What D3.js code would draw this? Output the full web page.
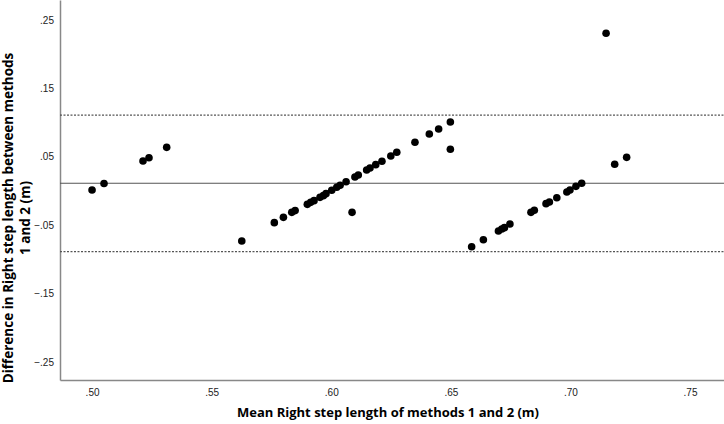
<!DOCTYPE html>
<html>
<head>
<meta charset="utf-8">
<script src="https://cdn.jsdelivr.net/npm/d3@7"></script>
<style>
  body { margin: 0; background: #fff; }
  svg { font-family: "Open Sans", sans-serif; }
  .tick text { fill: #222; font-size: 10px; }
</style>
</head>
<body>
<script>
// data: mean of methods (x) and difference (y)
var meanVals = [0.500, 0.505, 0.5213, 0.5238, 0.5312, 0.5626, 0.5762, 0.5800, 0.5835, 0.5849,
  0.5900, 0.5914, 0.5928, 0.5953, 0.5967, 0.5978, 0.6002, 0.6023, 0.6037, 0.6062,
  0.6087, 0.6099, 0.6113, 0.6148, 0.6162, 0.6186, 0.6212, 0.6249, 0.6274, 0.6350,
  0.6410, 0.6449, 0.6498, 0.6498, 0.6587, 0.6636, 0.6699, 0.6713, 0.6724, 0.6747,
  0.6835, 0.6849, 0.6898, 0.6912, 0.6943, 0.6985, 0.6998, 0.7023, 0.7047, 0.7149,
  0.7185, 0.7235];
var diffVals = [0.0015, 0.011, 0.0439, 0.0487, 0.0638, -0.0731, -0.0463, -0.0385, -0.0312, -0.0287,
  -0.0195, -0.0166, -0.0141, -0.0093, -0.0068, -0.0039, 0.001, 0.0054, 0.0083, 0.0136,
  -0.0312, 0.0205, 0.0234, 0.0307, 0.0336, 0.0385, 0.0434, 0.0512, 0.0566, 0.0712,
  0.0833, 0.0906, 0.1009, 0.061, -0.0814, -0.0712, -0.0585, -0.0556, -0.0536, -0.0482,
  -0.0312, -0.0282, -0.0185, -0.0161, -0.0098, -0.0015, 0.0015, 0.0068, 0.0113, 0.2306,
  0.039, 0.0492];

// mean difference and limits of agreement
var meanDiff = 0.0113;
var upperLimit = 0.111;
var lowerLimit = -0.0887;

var xTicks = [0.50, 0.55, 0.60, 0.65, 0.70, 0.75];
var yTicks = [-0.25, -0.15, -0.05, 0.05, 0.15, 0.25];

var width = 724, height = 424;
var plotLeft = 60, plotRight = 724, plotTop = 0, plotBottom = 380;

var svg = d3.select("body").append("svg")
    .attr("width", width)
    .attr("height", height);

var x = d3.scaleLinear().domain([0.4866, 0.7642]).range([plotLeft, plotRight]);
var y = d3.scaleLinear().domain([-0.2763, 0.2792]).range([plotBottom, plotTop]);

// ".50" style labels, no leading zero
function fmt(d) { return d3.format(".2f")(d).replace("0.", "."); }

// axes
svg.append("g")
    .attr("transform", "translate(0," + plotBottom + ")")
    .call(d3.axisBottom(x).tickValues(xTicks).tickSize(0).tickPadding(9).tickFormat(fmt))
    .call(function(g) { g.select(".domain").attr("stroke", "#888").attr("stroke-width", 1.5); });

svg.append("g")
    .attr("transform", "translate(" + plotLeft + ",0)")
    .call(d3.axisLeft(y).tickValues(yTicks).tickSize(0).tickPadding(6).tickFormat(fmt))
    .call(function(g) { g.select(".domain").attr("stroke", "#888").attr("stroke-width", 1.5); });

// mean line
svg.append("line")
    .attr("x1", plotLeft).attr("x2", plotRight)
    .attr("y1", y(meanDiff)).attr("y2", y(meanDiff))
    .attr("stroke", "#555").attr("stroke-width", 1.2);

// limits of agreement
[upperLimit, lowerLimit].forEach(function(v) {
  svg.append("line")
      .attr("x1", plotLeft).attr("x2", plotRight)
      .attr("y1", y(v)).attr("y2", y(v))
      .attr("stroke", "#555").attr("stroke-width", 1.3)
      .attr("stroke-dasharray", "2,1.5");
});

// points
svg.append("g").selectAll("circle")
    .data(d3.range(meanVals.length))
    .enter().append("circle")
    .attr("cx", function(i) { return x(meanVals[i]); })
    .attr("cy", function(i) { return y(diffVals[i]); })
    .attr("r", 3.8)
    .attr("fill", "#000");

// x title
svg.append("text")
    .attr("x", 388)
    .attr("y", 417)
    .attr("text-anchor", "middle")
    .style("font-size", "13px")
    .style("font-weight", "bold")
    .text("Mean Right step length of methods 1 and 2 (m)");

// y title (two lines)
var yTitle = svg.append("text")
    .attr("transform", "translate(13,218) rotate(-90)")
    .attr("text-anchor", "middle")
    .style("font-size", "13.5px")
    .style("font-weight", "bold");
yTitle.append("tspan").attr("x", 0).attr("dy", 0).text("Difference in Right step length between methods");
yTitle.append("tspan").attr("x", 0).attr("dy", 17).text("1 and 2 (m)");
</script>
</body>
</html>
